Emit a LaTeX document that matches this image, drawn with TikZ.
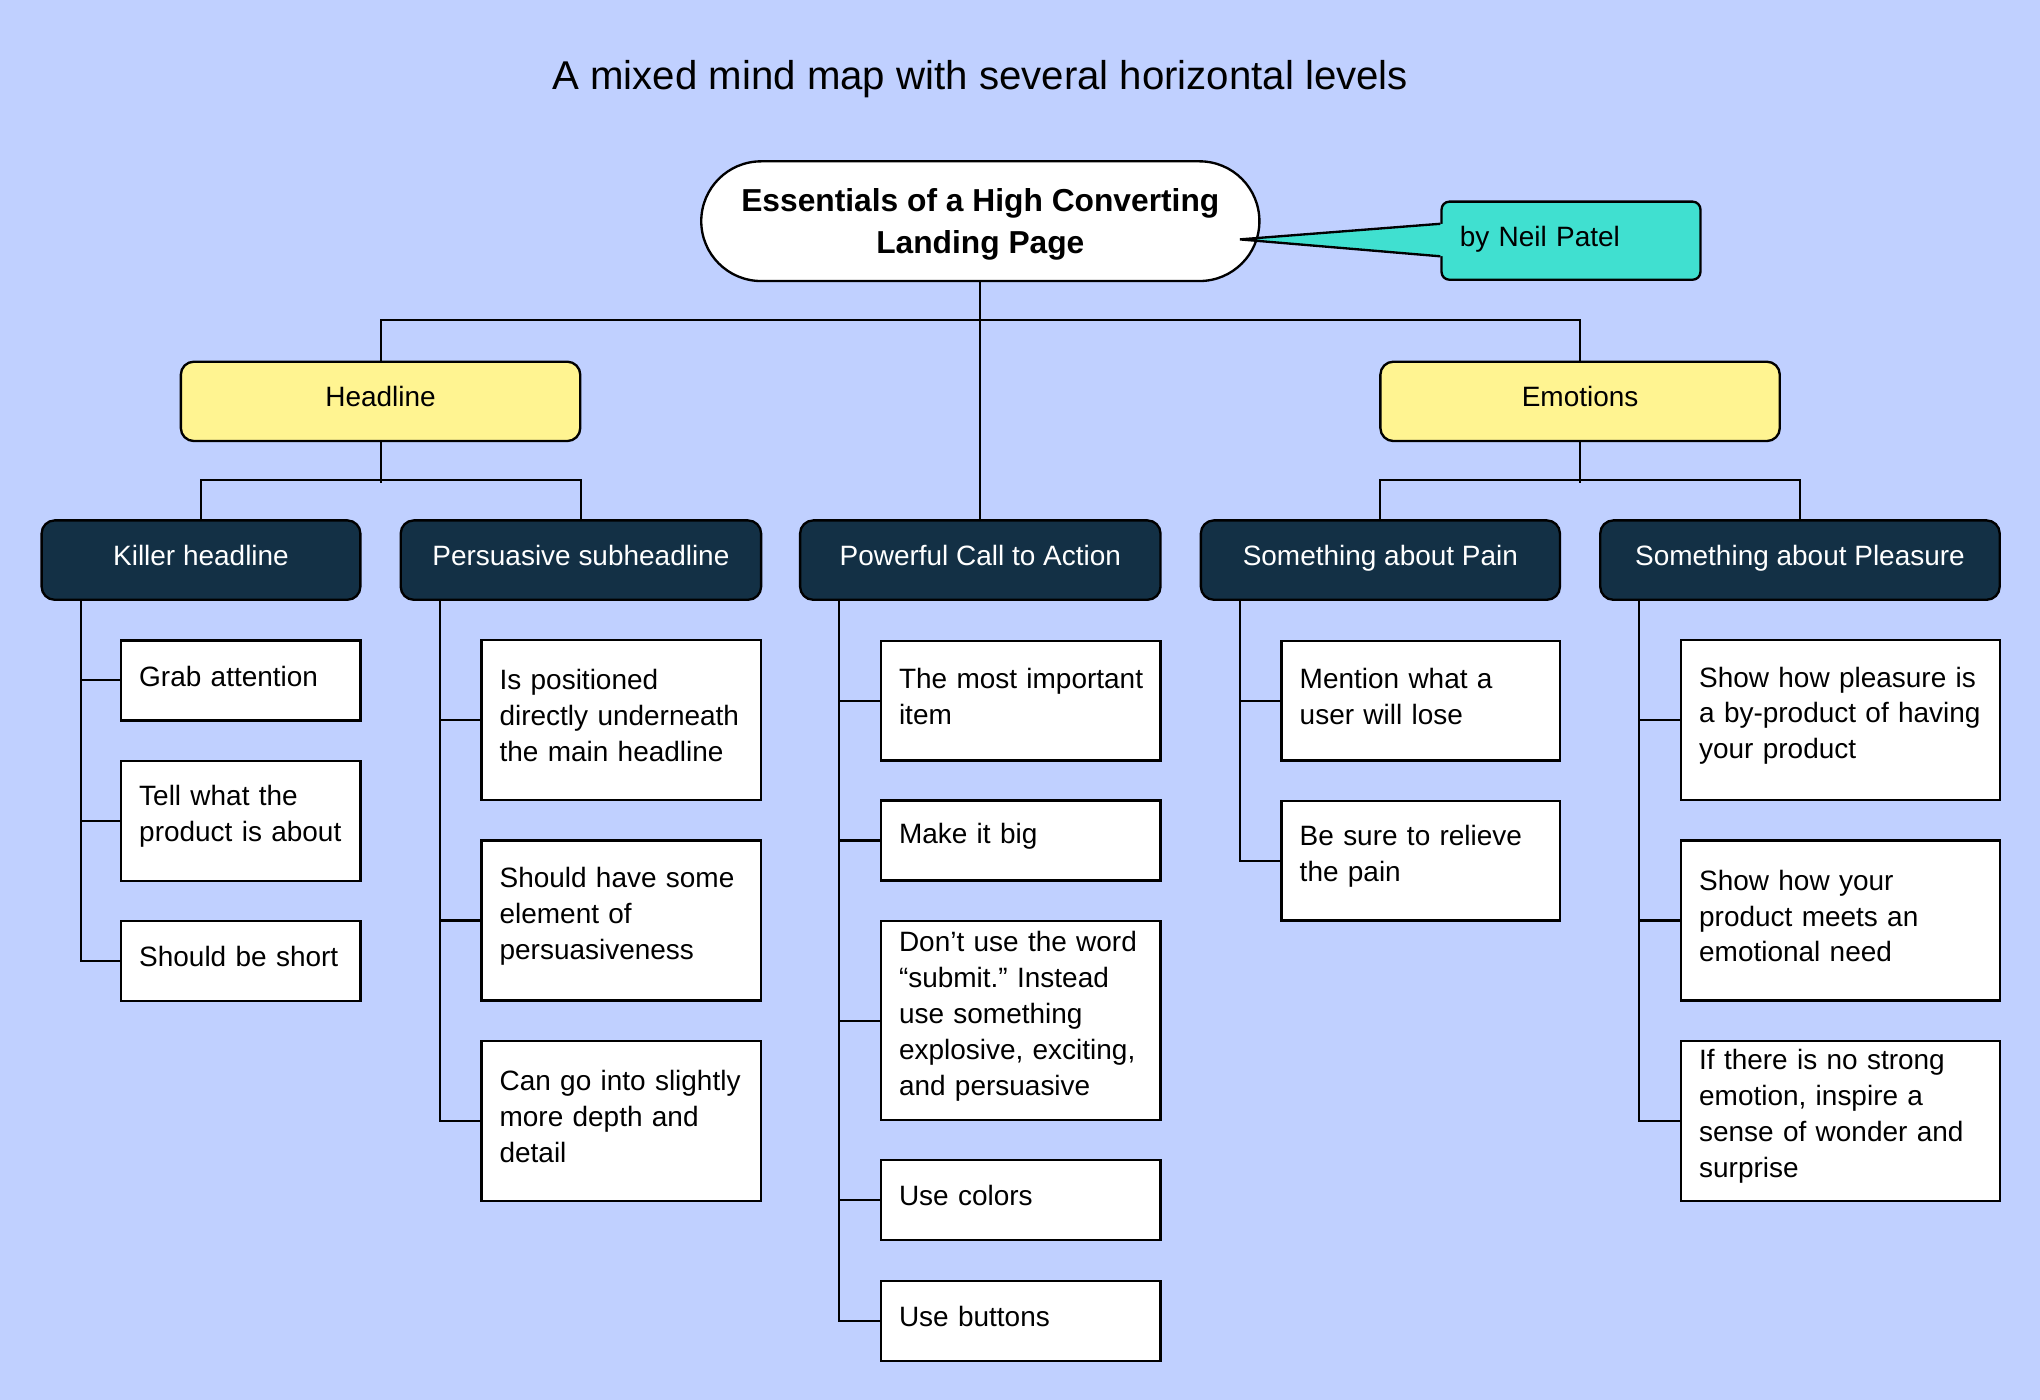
\documentclass[tikz,border=0pt]{standalone}
\usepackage{fontspec}
\setmainfont{Liberation Sans}
\usetikzlibrary{positioning}

\definecolor{bgblue}{RGB}{192,208,255}
\definecolor{navy}{RGB}{19,48,69}
\definecolor{lemon}{RGB}{255,244,145}
\definecolor{turq}{RGB}{64,224,208}

\newcommand{\boxfont}{\fontsize{10.75}{13.75}\selectfont\frenchspacing}

\tikzset{
  link/.style={line width=0.8pt},
  root/.style={draw, fill=white, line width=0.9pt, rounded corners=23pt,
    minimum width=214.5pt, minimum height=46pt, align=center, text depth=0pt,
    font=\fontsize{12.2}{16}\selectfont\bfseries},
  branch/.style={draw, fill=lemon, line width=0.9pt, rounded corners=5pt,
    minimum width=153.5pt, minimum height=30.5pt, text height=7.8pt, text depth=3.5pt,
    font=\boxfont},
  topic/.style={draw, fill=navy, text=white, line width=0.9pt, rounded corners=5pt,
    minimum height=30.5pt, text height=7.8pt, text depth=3.5pt, font=\boxfont},
  leaf/.style={draw, fill=white, line width=0.9pt, inner xsep=7pt, inner ysep=0pt,
    align=left, text width=#1, font=\boxfont,
    execute at end node={\par\vspace*{3.4pt}}},
}

\begin{document}
\begin{tikzpicture}[x=0.5pt, y=-0.5pt]
    \useasboundingbox[fill=bgblue] (0,0) rectangle (1568,1076);

    % title
    \node[anchor=base, font=\fontsize{15.45}{18}\selectfont] (title) at (753.5,69)
        {A mixed mind map with several horizontal levels};

    % root and note
    \node[root] (root) at (753.5,170) {Essentials of a High Converting\\Landing Page};
    \node[draw, fill=turq, rounded corners=3pt, line width=0.9pt, minimum width=99.5pt,
        minimum height=30pt, inner xsep=7pt, text width=85.5pt, align=left,
        text depth=3.5pt, font=\boxfont] (note) at (1207.5,185) {by Neil Patel};
    \coordinate (tip) at (953,184);
    \fill[turq] (tip) -- ([xshift=1.5pt,yshift=6.5pt]note.west)
        -- ([xshift=1.5pt,yshift=-6pt]note.west) -- cycle;
    \draw[line width=0.9pt] ([yshift=6.5pt]note.west) -- (tip) -- ([yshift=-6pt]note.west);

    % second level
    \node[branch] (headline) at (292.5,308.5) {Headline};
    \node[branch] (emotions) at (1214.5,308.5) {Emotions};

    % third level
    \node[topic, minimum width=122.5pt] (killer) at (154.5,430.5) {Killer headline};
    \node[topic, minimum width=138.5pt] (persuasive) at (446.5,430.5) {Persuasive subheadline};
    \node[topic, minimum width=138.5pt] (cta) at (753.5,430.5) {Powerful Call to Action};
    \node[topic, minimum width=138pt] (pain) at (1061,430.5) {Something about Pain};
    \node[topic, minimum width=153.5pt] (pleasure) at (1383.5,430.5) {Something about Pleasure};

    % leaves
    \node[leaf=78pt, minimum height=30.75pt] (grab) at (185,523) {Grab attention};
    \node[leaf=78pt, minimum height=46pt] (tell) at (185,631) {Tell what the\\\mbox{product is about}};
    \node[leaf=78pt, minimum height=30.75pt] (short) at (185,738.5) {Should be short};

    \node[leaf=93.5pt, minimum height=61.5pt] (position) at (477.5,553.5)
        {Is positioned\\\mbox{directly underneath}\\the main headline};
    \node[leaf=93.5pt, minimum height=61.5pt] (element) at (477.5,707.5)
        {Should have some\\element of\\persuasiveness};
    \node[leaf=93.5pt, minimum height=61.5pt] (depth) at (477.5,861.5)
        {\mbox{Can go into slightly}\\more depth and\\detail};

    \node[leaf=93.5pt, minimum height=46pt] (item) at (784.5,538.5)
        {\mbox{The most important}\\item};
    \node[leaf=93.5pt, minimum height=30.75pt] (big) at (784.5,646) {Make it big};
    \node[leaf=93.5pt, minimum height=76.5pt] (word) at (784.5,784.5)
        {Don’t use the word\\“submit.” Instead\\use something\\\mbox{explosive, exciting,}\\and persuasive};
    \node[leaf=93.5pt, minimum height=30.75pt] (colors) at (784.5,922.5) {Use colors};
    \node[leaf=93.5pt, minimum height=30.75pt] (buttons) at (784.5,1015.5) {Use buttons};

    \node[leaf=93pt, minimum height=46pt] (lose) at (1092,538.5) {Mention what a\\user will lose};
    \node[leaf=93pt, minimum height=46pt] (relieve) at (1092,661.5) {Be sure to relieve\\the pain};

    \node[leaf=108.5pt, minimum height=61.5pt] (byproduct) at (1414.5,553.5)
        {Show how pleasure is\\\mbox{a by-product of having}\\your product};
    \node[leaf=108.5pt, minimum height=61.5pt] (need) at (1414.5,707.5)
        {Show how your\\product meets an\\emotional need};
    \node[leaf=108.5pt, minimum height=61.5pt] (wonder) at (1414.5,861.5)
        {If there is no strong\\emotion, inspire a\\sense of wonder and\\surprise};

    % connectors
    \draw[link] (root.south) -- (cta.north);
    \draw[link] (headline.north) -- ++(0,-31) -| (emotions.north);
    \draw[link] (headline.south) -- ++(0,31);
    \draw[link] (killer.north) -- ++(0,-30) -| (persuasive.north);
    \draw[link] (emotions.south) -- ++(0,31);
    \draw[link] (pain.north) -- ++(0,-30) -| (pleasure.north);

    \foreach \t/\l in {killer/grab, killer/tell, killer/short,
        persuasive/position, persuasive/element, persuasive/depth,
        cta/item, cta/big, cta/word, cta/colors, cta/buttons,
        pain/lose, pain/relieve,
        pleasure/byproduct, pleasure/need, pleasure/wonder}
        \draw[link] ([xshift=15.5pt]\t.south west) |- (\l.west);

\end{tikzpicture}
\end{document}
